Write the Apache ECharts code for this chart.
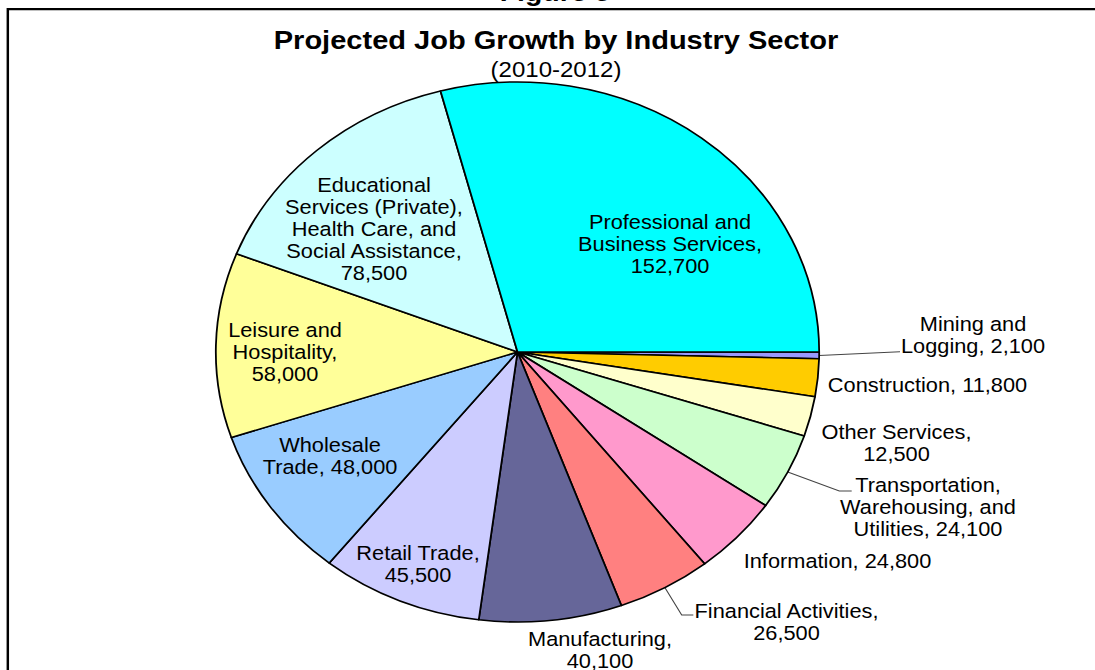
<!DOCTYPE html>
<html>
<head>
<meta charset="utf-8">
<script src="https://cdn.jsdelivr.net/npm/echarts@6/dist/echarts.min.js"></script>
<style>
html, body { margin: 0; padding: 0; background: #fff; overflow: hidden; width: 1095px; height: 670px; }
#chart { width: 980px; height: 670px; transform: scaleX(1.117347); transform-origin: 0 0; }
</style>
</head>
<body>
<div id="chart"></div>
<script>
// ---- data ----
const categories = [
  'Mining and Logging',
  'Construction',
  'Other Services',
  'Transportation, Warehousing, and Utilities',
  'Information',
  'Financial Activities',
  'Manufacturing',
  'Retail Trade',
  'Wholesale Trade',
  'Leisure and Hospitality',
  'Educational Services (Private), Health Care, and Social Assistance',
  'Professional and Business Services'
];
const jobGrowth = [2100, 11800, 12500, 24100, 24800, 26500, 40100, 45500, 48000, 58000, 78500, 152700];
const labelNames = [
  'Mining and\nLogging',
  'Construction',
  'Other Services',
  'Transportation,\nWarehousing, and\nUtilities',
  'Information',
  'Financial Activities',
  'Manufacturing',
  'Retail Trade',
  'Wholesale\nTrade',
  'Leisure and\nHospitality',
  'Educational\nServices (Private),\nHealth Care, and\nSocial Assistance',
  'Professional and\nBusiness Services'
];
const labelSeparators = [', ', ', ', ',\n', ', ', ', ', ',\n', ',\n', ',\n', ', ', ',\n', ',\n', ',\n'];
const titleText = 'Projected Job Growth by Industry Sector';
const subtitleText = '(2010-2012)';
const figureText = 'Figure 5';

// ---- styles / layout ----
const sliceColors = ['#9999FF', '#FFCC00', '#FFFFCC', '#CCFFCC', '#FF99CC', '#FF8080',
                     '#666699', '#CCCCFF', '#99CCFF', '#FFFF99', '#CCFFFF', '#00FFFF'];
const SX = 1095 / 980;           // horizontal stretch of the picture
const FONT = "'Liberation Sans', Arial, sans-serif";
// label centres in screen pixels
const labelCenters = [[973, 334.5], [927.5, 384.5], [896.5, 442.5], [928, 507], [837.5, 561], [786.5, 622],
                      [600, 650], [418, 564], [330, 456], [285, 352], [374, 229], [670, 244]];
const leaderBends = { 0: [[900, 351.7]], 3: [[839.3, 491], [851.7, 491]], 5: [[681.7, 615], [693.3, 615]] };
const insideFrom = 7;

const chart = echarts.init(document.getElementById('chart'), null, { renderer: 'svg' });

const option = {
  backgroundColor: 'transparent',
  animation: false,
  title: {
    text: titleText,
    subtext: subtitleText,
    left: 556 / SX,
    top: 27.5,
    textAlign: 'center',
    padding: 0,
    itemGap: 4.5,
    textStyle: { fontFamily: FONT, fontWeight: 'bold', fontSize: 26, lineHeight: 26, color: '#000' },
    subtextStyle: { fontFamily: FONT, fontSize: 21.5, lineHeight: 22, color: '#000' }
  },
  graphic: [
    {
      type: 'rect',
      shape: { x: 7, y: 9.2, width: 1200, height: 800 },
      style: { fill: 'none', stroke: '#000', lineWidth: 2.2 },
      silent: true
    },
    {
      type: 'text',
      x: 555 / SX, y: 6,
      style: { text: figureText, fontFamily: FONT, fontWeight: 'bold', fontSize: 25.5,
               fill: '#000', textAlign: 'center', textVerticalAlign: 'bottom' },
      silent: true
    }
  ],
  series: [{
    type: 'pie',
    center: [517.5 / SX, 352],
    radius: [0, 270],
    startAngle: 0,
    clockwise: true,
    avoidLabelOverlap: false,
    silent: true,
    emphasis: { disabled: true },
    itemStyle: { borderColor: '#000', borderWidth: 1.6 },
    label: {
      show: true,
      color: '#000',
      fontFamily: FONT,
      fontSize: 19.5,
      lineHeight: 22,
      align: 'center',
      formatter: p => labelNames[p.dataIndex] + labelSeparators[p.dataIndex] + p.value.toLocaleString('en-US')
    },
    labelLine: { lineStyle: { color: '#444', width: 1 }, smooth: false },
    labelLayout: function (p) {
      const i = p.dataIndex;
      const c = labelCenters[i];
      const res = { x: c[0] / SX, y: c[1], align: 'center', verticalAlign: 'middle' };
      const bends = leaderBends[i];
      if (bends && p.labelLinePoints) {
        const start = p.labelLinePoints[0];
        const pts = [[start[0], start[1]]].concat(bends.map(b => [b[0] / SX, b[1]]));
        if (pts.length < 3) pts.push(pts[pts.length - 1].slice());
        res.labelLinePoints = pts;
      }
      return res;
    },
    data: categories.map((name, i) => ({
      name: name,
      value: jobGrowth[i],
      itemStyle: { color: sliceColors[i] },
      label: { position: i >= insideFrom ? 'inside' : 'outside' },
      labelLine: { show: leaderBends[i] !== undefined }
    }))
  }]
};
chart.setOption(option);
</script>
</body>
</html>
